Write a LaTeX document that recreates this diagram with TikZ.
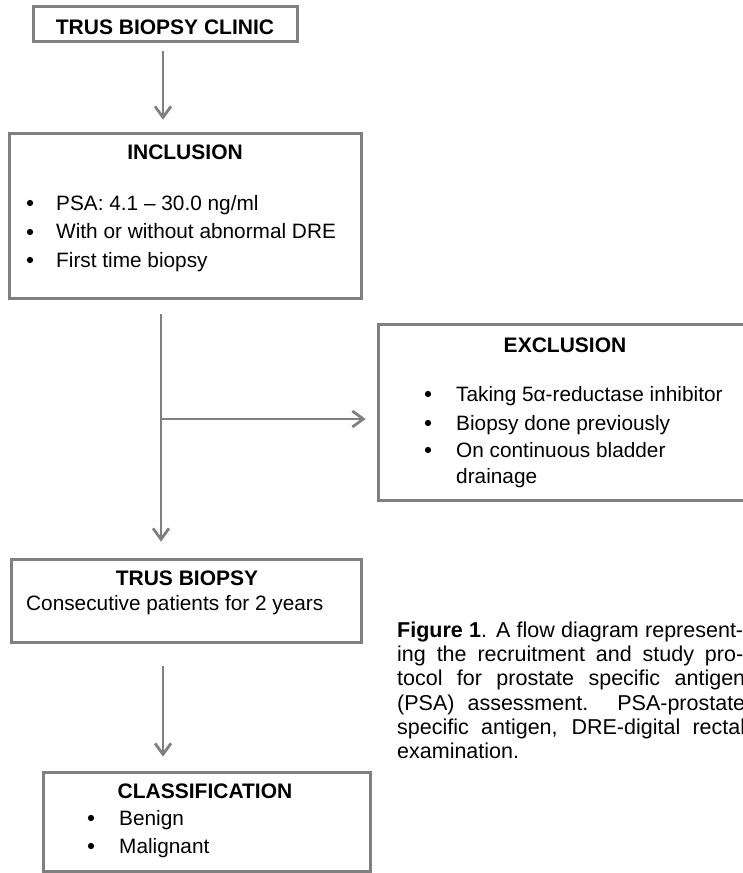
\documentclass[tikz,border=0pt]{standalone}
\usepackage{fontspec}
\setmainfont{Liberation Sans}
\usetikzlibrary{arrows.meta}
\definecolor{lg}{RGB}{128,128,128}
\begin{document}
\begin{tikzpicture}[x=1pt,y=-1pt,
  box/.style={draw=lg, line width=2.8pt, inner sep=0pt, fill=white},
  arr/.style={draw=lg, line width=2.8pt, -{Straight Barb[length=11pt,width=16pt]}},
  ttl/.style={font=\fontsize{21}{24}\selectfont\bfseries, inner sep=0pt, anchor=base},
  txt/.style={font=\fontsize{20.8}{24}\selectfont, inner sep=0pt, anchor=base west},
  dot/.style={circle, fill=black, inner sep=0pt, minimum size=6.3pt},
  captext/.style={font=\fontsize{21.5}{24}\selectfont, inner sep=0pt, anchor=base west}]
\useasboundingbox (0,0) rectangle (743,873);
% boxes
\node[box, minimum width=264, minimum height=35] (clinic) at (165.5,24) {};
\node[box, minimum width=352, minimum height=165] (incl) at (185.5,216) {};
\node[box, minimum width=373, minimum height=176] (excl) at (565,412.5) {};
\node[box, minimum width=350, minimum height=83] (trus) at (186.5,601) {};
\node[box, minimum width=327, minimum height=99] (cls) at (207,822) {};
% coordinates for connector lines
\coordinate (xa) at (163,0);
\coordinate (xb) at (161,0);
\coordinate (br) at (161,419);
% connectors
\draw[arr, shorten <=8.4pt, shorten >=12.4pt] (clinic.south -| xa) -- (incl.north -| xa);
\draw[arr, shorten <=14.4pt, shorten >=16.4pt] (incl.south -| xb) -- (trus.north -| xb);
\draw[arr, shorten >=11.4pt] (br) -- (excl.west |- br);
\draw[arr, shorten <=22.4pt, shorten >=14.4pt] (trus.south -| xa) -- (cls.north -| xa);
% clinic
\node[ttl] (t1) at (165,34) {TRUS BIOPSY CLINIC};
% inclusion
\node[ttl] (t2) at (185,159) {INCLUSION};
\node[dot] (d21) at (30,203) {};
\node[dot] (d22) at (30,232) {};
\node[dot] (d23) at (30,260) {};
\node[txt] (l21) at (56,210) {PSA: 4.1 – 30.0 ng/ml};
\node[txt] (l22) at (56,238) {With or without abnormal DRE};
\node[txt] (l23) at (56,267) {First time biopsy};
% exclusion
\node[ttl] (t3) at (565,352) {EXCLUSION};
\node[dot] (d31) at (428,394) {};
\node[dot] (d32) at (428,423) {};
\node[dot] (d33) at (428,450) {};
\node[txt] (l31) at (456,401) {Taking 5α-reductase inhibitor};
\node[txt] (l32) at (456,430) {Biopsy done previously};
\node[txt] (l33) at (456,457) {On continuous bladder};
\node[txt] (l34) at (456,483) {drainage};
% trus biopsy
\node[ttl] (t4) at (187,585) {TRUS BIOPSY};
\node[txt] (l41) at (26,610) {Consecutive patients for 2 years};
% classification
\node[ttl] (t5) at (205,798) {CLASSIFICATION};
\node[dot] (d51) at (91,818) {};
\node[dot] (d52) at (91,846) {};
\node[txt] (l51) at (119,825) {Benign};
\node[txt] (l52) at (119,853) {Malignant};
% caption
\node[captext] (c1) at (397,637) {\hbox to 346pt{\textbf{Figure 1}. A flow diagram represent-}};
\node[captext] (c2) at (397,661) {\hbox to 346pt{ing the recruitment and study pro-}};
\node[captext] (c3) at (397,685) {\hbox to 348pt{tocol for prostate specific antigen}};
\node[captext] (c4) at (397,710) {\hbox to 348pt{(PSA) assessment. PSA-prostate}};
\node[captext] (c5) at (397,734) {\hbox to 348pt{specific antigen, DRE-digital rectal}};
\node[captext] (c6) at (397,758) {examination.};
\end{tikzpicture}
\end{document}
